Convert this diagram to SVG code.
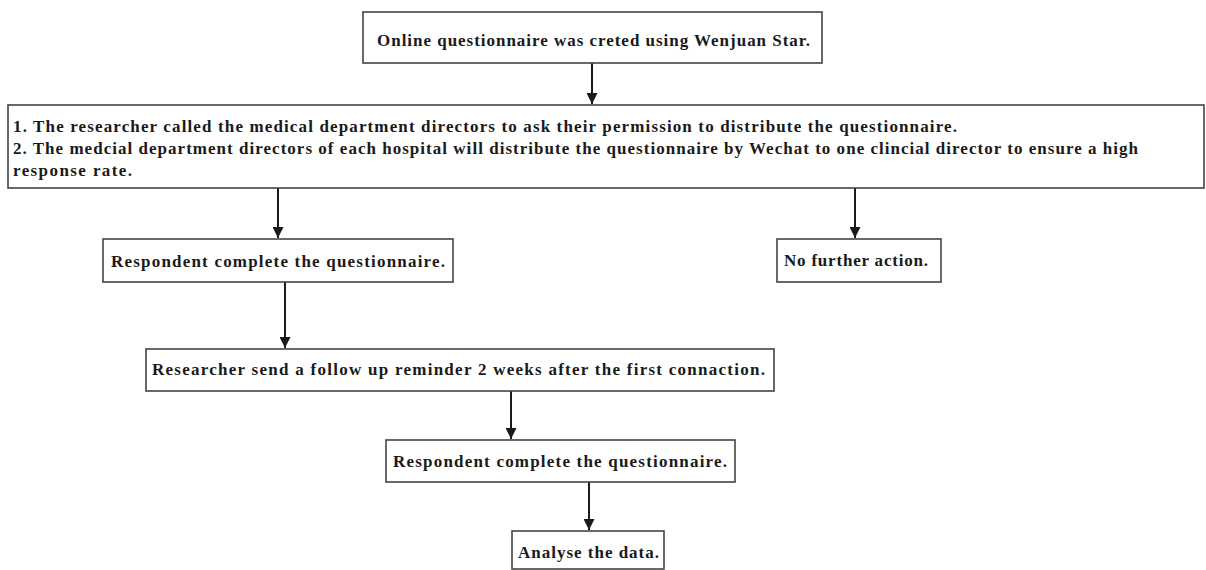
<svg xmlns="http://www.w3.org/2000/svg" width="1206" height="570" viewBox="0 0 1206 570">
<style>
.box{fill:#fff;stroke:#444;stroke-width:1.6}
.t{font-family:"Liberation Serif","Times New Roman",serif;font-weight:bold;font-size:17px;fill:#1a1a1a}
.c{stroke:#1a1a1a;stroke-width:2;fill:none}
</style>
<defs>
<marker id="ah" viewBox="0 0 10 10" refX="10" refY="5" markerWidth="5.5" markerHeight="5.5" markerUnits="strokeWidth" orient="auto">
<path d="M0,0 L10,5 L0,10 z" fill="#1a1a1a"/>
</marker>
</defs>
<rect width="1206" height="570" fill="#fff"/>
<g id="connectors">
<line class="c" x1="592" y1="63" x2="592" y2="104" marker-end="url(#ah)"/>
<line class="c" x1="278" y1="188" x2="278" y2="238" marker-end="url(#ah)"/>
<line class="c" x1="855" y1="188" x2="855" y2="238" marker-end="url(#ah)"/>
<line class="c" x1="285" y1="282" x2="285" y2="348" marker-end="url(#ah)"/>
<line class="c" x1="511" y1="391" x2="511" y2="439" marker-end="url(#ah)"/>
<line class="c" x1="589" y1="482" x2="589" y2="530" marker-end="url(#ah)"/>
</g>
<g id="n1">
<rect class="box" x="363" y="12" width="459" height="51"/>
<text class="t" x="377" y="46" textLength="433" lengthAdjust="spacing">Online questionnaire was creted using Wenjuan Star.</text>
</g>
<g id="n2">
<rect class="box" x="8" y="105" width="1196" height="83"/>
<text class="t" x="13" y="132" textLength="944" lengthAdjust="spacing">1. The researcher called the medical department directors to ask their permission to distribute the questionnaire.</text>
<text class="t" x="13" y="154" textLength="1125" lengthAdjust="spacing">2. The medcial department directors of each hospital will distribute the questionnaire by Wechat to one clincial director to ensure a high</text>
<text class="t" x="13" y="176" textLength="119" lengthAdjust="spacing">response rate.</text>
</g>
<g id="n3">
<rect class="box" x="103" y="239" width="350" height="43"/>
<text class="t" x="111" y="267" textLength="334" lengthAdjust="spacing">Respondent complete the questionnaire.</text>
</g>
<g id="n4">
<rect class="box" x="777" y="239" width="164" height="43"/>
<text class="t" x="784" y="266" textLength="144" lengthAdjust="spacing">No further action.</text>
</g>
<g id="n5">
<rect class="box" x="146" y="349" width="628" height="42"/>
<text class="t" x="152" y="375" textLength="613" lengthAdjust="spacing">Researcher send a follow up reminder 2 weeks after the first  connaction.</text>
</g>
<g id="n6">
<rect class="box" x="386" y="440" width="349" height="42"/>
<text class="t" x="393" y="467" textLength="334" lengthAdjust="spacing">Respondent complete the questionnaire.</text>
</g>
<g id="n7">
<rect class="box" x="512" y="531" width="152" height="38"/>
<text class="t" x="518" y="558" textLength="141" lengthAdjust="spacing">Analyse the data.</text>
</g>
</svg>
